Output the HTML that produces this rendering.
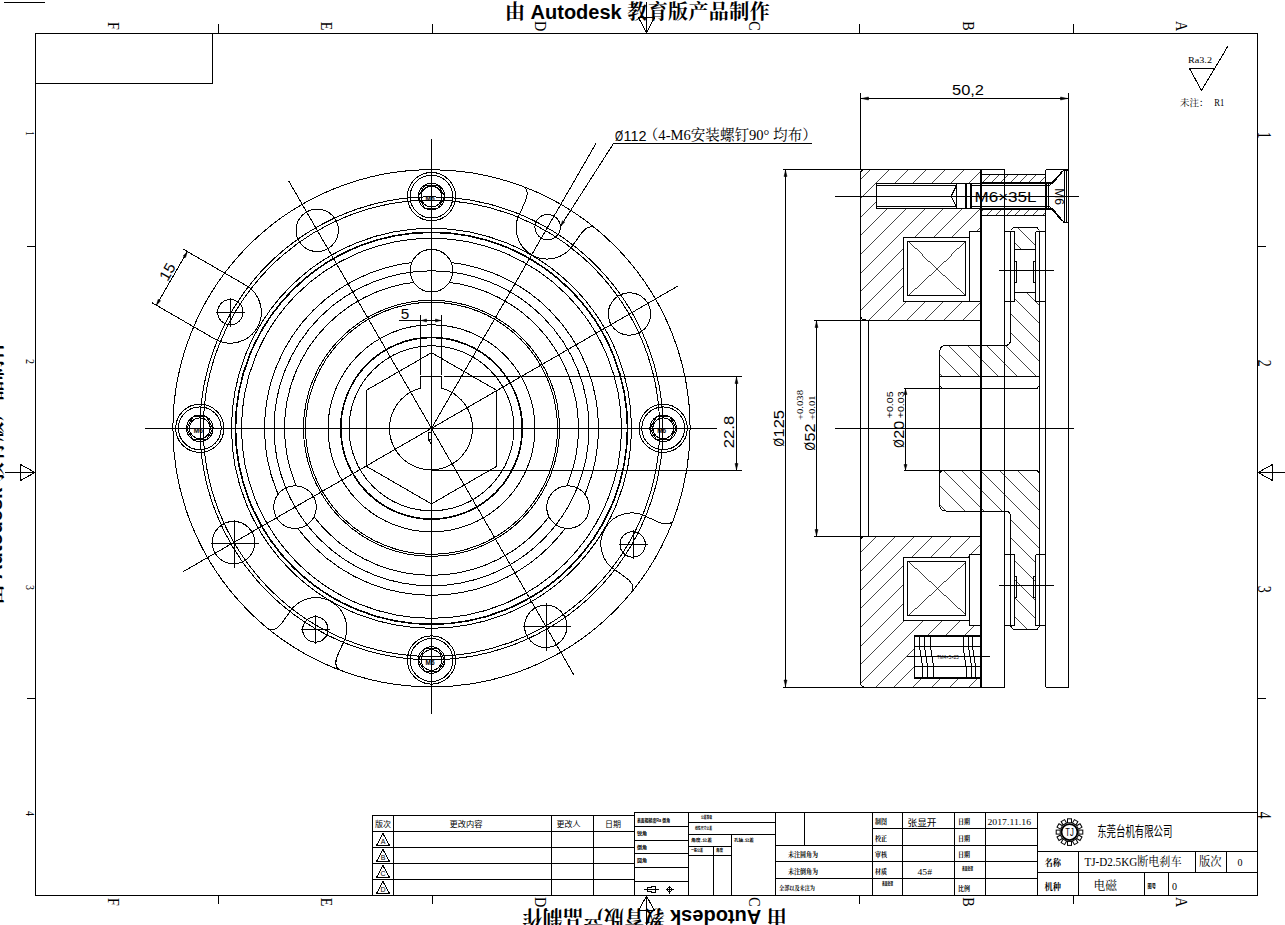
<!DOCTYPE html>
<html lang="zh"><head><meta charset="utf-8"><title>TJ-D2.5KG断电刹车</title>
<style>
html,body{margin:0;padding:0;background:#fff;}
body{width:1285px;height:925px;overflow:hidden;position:relative;}
svg{display:block;position:absolute;left:0;top:0;}
text{fill:#000;stroke:none;}
.ls{font-family:"Liberation Sans",sans-serif;}
.sf{font-family:"Liberation Serif",serif;}
.sg{font-family:"Liberation Serif","Noto Serif CJK SC",serif;}
.hs{font-family:"Liberation Sans","Noto Sans CJK SC",sans-serif;}
.mx{font-family:"Liberation Sans","Noto Serif CJK SC",sans-serif;}
.fk{fill:#000;stroke:#000;stroke-width:0.5;stroke-linejoin:miter;}
.g{fill:none;stroke:#000;stroke-width:1;}
</style></head><body>
<svg width="1285" height="925" viewBox="0 0 1285 925">
<rect x="0" y="0" width="1285" height="925" fill="#fff"/>
<g class="g" shape-rendering="crispEdges">
<rect x="35.5" y="33.5" width="1222" height="862"/>
<path d="M35.5 83.5H212.5V33.5"/>
<line x1="4" y1="2.5" x2="45" y2="2.5"/>
<line x1="218.5" y1="24" x2="218.5" y2="33.5"/>
<line x1="218.5" y1="895.5" x2="218.5" y2="904"/>
<line x1="432.5" y1="24" x2="432.5" y2="33.5"/>
<line x1="432.5" y1="895.5" x2="432.5" y2="904"/>
<line x1="859.5" y1="24" x2="859.5" y2="33.5"/>
<line x1="859.5" y1="895.5" x2="859.5" y2="904"/>
<line x1="1073.5" y1="24" x2="1073.5" y2="33.5"/>
<line x1="1073.5" y1="895.5" x2="1073.5" y2="904"/>
<line x1="27" y1="246.5" x2="35.5" y2="246.5"/>
<line x1="1257.5" y1="246.5" x2="1266" y2="246.5"/>
<line x1="27" y1="698.5" x2="35.5" y2="698.5"/>
<line x1="1257.5" y1="698.5" x2="1266" y2="698.5"/>
<line x1="646.5" y1="2" x2="646.5" y2="33.5"/>
<path d="M638.5 17.5H654.5L646.5 33Z"/>
<line x1="646.5" y1="895.5" x2="646.5" y2="925"/>
<path d="M638.5 910.5H654.5L646.5 896Z"/>
<line x1="5" y1="472.5" x2="35.5" y2="472.5"/>
<path d="M20.5 464.5V480.5L35 472.5Z"/>
<line x1="1257.5" y1="472.5" x2="1285" y2="472.5"/>
<path d="M1272.5 464.5V480.5L1258 472.5Z"/>
</g>
<text class="sf" transform="translate(107.5 26) rotate(90) scale(0.8 1)" font-size="17.7" text-anchor="middle">F</text>
<text class="sf" transform="translate(107.5 902) rotate(90) scale(0.8 1)" font-size="17.7" text-anchor="middle">F</text>
<text class="sf" transform="translate(320.6 26) rotate(90) scale(0.8 1)" font-size="17.7" text-anchor="middle">E</text>
<text class="sf" transform="translate(320.6 902) rotate(90) scale(0.8 1)" font-size="17.7" text-anchor="middle">E</text>
<text class="sf" transform="translate(535.1 26) rotate(90) scale(0.8 1)" font-size="17.7" text-anchor="middle">D</text>
<text class="sf" transform="translate(535.1 902) rotate(90) scale(0.8 1)" font-size="17.7" text-anchor="middle">D</text>
<text class="sf" transform="translate(749.1 26) rotate(90) scale(0.8 1)" font-size="17.7" text-anchor="middle">C</text>
<text class="sf" transform="translate(749.1 902) rotate(90) scale(0.8 1)" font-size="17.7" text-anchor="middle">C</text>
<text class="sf" transform="translate(962.6 26) rotate(90) scale(0.8 1)" font-size="17.7" text-anchor="middle">B</text>
<text class="sf" transform="translate(962.6 902) rotate(90) scale(0.8 1)" font-size="17.7" text-anchor="middle">B</text>
<text class="sf" transform="translate(1175.9 26) rotate(90) scale(0.8 1)" font-size="17.7" text-anchor="middle">A</text>
<text class="sf" transform="translate(1175.9 902) rotate(90) scale(0.8 1)" font-size="17.7" text-anchor="middle">A</text>
<text class="sf" transform="translate(25.7 133.5) rotate(90) scale(0.8 1)" font-size="12.3" text-anchor="middle">1</text>
<text class="sf" transform="translate(1258 135.3) rotate(90) scale(0.75 1)" font-size="18.5" text-anchor="middle">1</text>
<text class="sf" transform="translate(25.7 361.4) rotate(90) scale(0.8 1)" font-size="12.3" text-anchor="middle">2</text>
<text class="sf" transform="translate(1258 363.2) rotate(90) scale(0.75 1)" font-size="18.5" text-anchor="middle">2</text>
<text class="sf" transform="translate(25.7 587.4) rotate(90) scale(0.8 1)" font-size="12.3" text-anchor="middle">3</text>
<text class="sf" transform="translate(1258 589.2) rotate(90) scale(0.75 1)" font-size="18.5" text-anchor="middle">3</text>
<text class="sf" transform="translate(25.7 813.5) rotate(90) scale(0.8 1)" font-size="12.3" text-anchor="middle">4</text>
<text class="sf" transform="translate(1258 815.3) rotate(90) scale(0.75 1)" font-size="18.5" text-anchor="middle">4</text>
<text class="mx" x="505" y="19" font-size="20" font-weight="bold">由 Autodesk <tspan letter-spacing="0.4">教育版产品制作</tspan></text>
<text class="mx" transform="translate(786.8 910) rotate(180)" font-size="20" font-weight="bold">由 Autodesk <tspan letter-spacing="0.4">教育版产品制作</tspan></text>
<text class="mx" transform="translate(1.5 604.5) rotate(-90)" font-size="20" font-weight="bold">由 Autodesk <tspan letter-spacing="0.4">教育版产品制作</tspan></text>
<g class="g" shape-rendering="crispEdges">
<circle cx="431.5" cy="428.3" r="147"/>
<circle cx="431.5" cy="428.3" r="167"/>
<circle cx="431.5" cy="270.7" r="21.3" fill="#fff"/>
<circle cx="295.01" cy="507.1" r="21.3" fill="#fff"/>
<circle cx="567.99" cy="507.1" r="21.3" fill="#fff"/>
<circle cx="431.5" cy="428.3" r="82.5" stroke-width="1"/>
<circle cx="431.5" cy="428.3" r="90.8" stroke-width="1.6"/>
<circle cx="431.5" cy="428.3" r="103.5" stroke-width="1"/>
<circle cx="431.5" cy="428.3" r="126" stroke-width="1"/>
<circle cx="431.5" cy="428.3" r="128" stroke-width="1"/>
<circle cx="431.5" cy="428.3" r="157.5" stroke-width="1"/>
<circle cx="431.5" cy="428.3" r="190" stroke-width="1"/>
<circle cx="431.5" cy="428.3" r="196" stroke-width="1.6"/>
<circle cx="431.5" cy="428.3" r="200" stroke-width="1"/>
<circle cx="431.5" cy="428.3" r="228.2" stroke-width="1"/>
<circle cx="431.5" cy="428.3" r="231.5" stroke-width="1"/>
<circle cx="431.5" cy="428.3" r="258.6" stroke-width="1"/>
<path d="M441.5 388.15A41.5 41.5 0 1 1 420.5 388.15V376.5H441.5Z"/>
<path d="M431.5 352.7L366.03 390.5L366.03 466.1L431.5 503.9L496.97 466.1L496.97 390.5Z"/>
<path d="M428.5 432.5H431.5V439.5H428.5ZM428.5 439.5L431 444"/>
<line x1="145" y1="428.5" x2="717" y2="428.5"/>
<line x1="431.5" y1="138.5" x2="431.5" y2="714"/>
<line x1="183.38" y1="571.55" x2="678.32" y2="285.8"/>
<line x1="288.7" y1="180.96" x2="573.75" y2="674.68"/>
<line x1="431.5" y1="428.3" x2="596" y2="143.38"/>
<circle cx="663.2" cy="428.3" r="24.1"/>
<circle cx="663.2" cy="428.3" r="21.4"/>
<circle cx="663.2" cy="428.3" r="13.3"/>
<circle cx="663.2" cy="428.3" r="10.4"/>
<path d="M676.5 428.3L669.85 416.78L656.55 416.78L649.9 428.3L656.55 439.82L669.85 439.82Z"/>
<circle cx="431.5" cy="196.6" r="24.1"/>
<circle cx="431.5" cy="196.6" r="21.4"/>
<circle cx="431.5" cy="196.6" r="13.3"/>
<circle cx="431.5" cy="196.6" r="10.4"/>
<path d="M444.8 196.6L438.15 185.08L424.85 185.08L418.2 196.6L424.85 208.12L438.15 208.12Z"/>
<circle cx="199.8" cy="428.3" r="24.1"/>
<circle cx="199.8" cy="428.3" r="21.4"/>
<circle cx="199.8" cy="428.3" r="13.3"/>
<circle cx="199.8" cy="428.3" r="10.4"/>
<path d="M213.1 428.3L206.45 416.78L193.15 416.78L186.5 428.3L193.15 439.82L206.45 439.82Z"/>
<circle cx="431.5" cy="660" r="24.1"/>
<circle cx="431.5" cy="660" r="21.4"/>
<circle cx="431.5" cy="660" r="13.3"/>
<circle cx="431.5" cy="660" r="10.4"/>
<path d="M444.8 660L438.15 648.48L424.85 648.48L418.2 660L424.85 671.52L438.15 671.52Z"/>
<circle cx="629.47" cy="314" r="21.2"/>
<circle cx="317.2" cy="230.33" r="21.2"/>
<circle cx="233.53" cy="542.6" r="21.2"/>
<line x1="210.5" y1="543.5" x2="258.5" y2="543.5"/>
<line x1="234.5" y1="519.5" x2="234.5" y2="567.5"/>
<circle cx="545.8" cy="626.27" r="21.2"/>
<line x1="522.5" y1="626.5" x2="570.5" y2="626.5"/>
<line x1="546.5" y1="602.5" x2="546.5" y2="650.5"/>
<circle cx="547.65" cy="227.12" r="12.7"/>
<path d="M523.74 186.53C528.59 190.14 528 196.15 524.44 203.33C522.61 206.89 521.63 209.79 520.3 212.49A31 31 0 0 0 574 243.49C575.67 240.99 577.69 238.69 579.86 235.33C584.3 228.65 589.21 225.14 594.76 227.53"/>
<circle cx="230.32" cy="312.15" r="12.7"/>
<line x1="216" y1="312.5" x2="245" y2="312.5"/>
<line x1="230.5" y1="298" x2="230.5" y2="327"/>
<path d="M151.95 302.7L214.82 339A31 31 0 0 0 245.82 285.3L182.95 249"/>
<circle cx="315.35" cy="629.48" r="12.7"/>
<line x1="301" y1="629.5" x2="330" y2="629.5"/>
<line x1="315.5" y1="615" x2="315.5" y2="644"/>
<path d="M339.26 670.07C334.41 666.46 335 660.45 338.56 653.27C340.39 649.71 341.37 646.81 342.7 644.11A31 31 0 0 0 289 613.11C287.33 615.61 285.31 617.91 283.14 621.27C278.7 627.95 273.79 631.46 268.24 629.07"/>
<circle cx="632.68" cy="544.45" r="12.7"/>
<line x1="619" y1="544.5" x2="648" y2="544.5"/>
<line x1="633.5" y1="530" x2="633.5" y2="559"/>
<path d="M673.27 520.54C669.66 525.39 663.65 524.8 656.47 521.24C652.91 519.41 650.01 518.43 647.31 517.1A31 31 0 0 0 616.31 570.8C618.81 572.47 621.11 574.49 624.47 576.66C631.15 581.1 634.66 586.01 632.27 591.56"/>
<line x1="420.5" y1="315" x2="420.5" y2="374.5"/>
<line x1="441.5" y1="315" x2="441.5" y2="374.5"/>
<line x1="399" y1="320.5" x2="441.5" y2="320.5"/>
<line x1="444" y1="376.5" x2="742" y2="376.5"/>
<line x1="431.5" y1="470.5" x2="742" y2="470.5"/>
<line x1="736.5" y1="376.5" x2="736.5" y2="470.5"/>
<line x1="156.37" y1="305.25" x2="187.37" y2="251.55"/>
<line x1="613.5" y1="143.5" x2="812" y2="143.5"/>
<line x1="613.5" y1="143.5" x2="560.4" y2="226.4"/>
</g>
<polygon class="fk" points="421.5,320.5 426.5,319 426.5,322"/>
<polygon class="fk" points="440.5,320.5 435.5,322 435.5,319"/>
<polygon class="fk" points="736.5,377.5 738,383.5 735,383.5"/>
<polygon class="fk" points="736.5,469.5 735,463.5 738,463.5"/>
<polygon class="fk" points="156.37,305.25 158.15,299.35 160.58,300.75"/>
<polygon class="fk" points="187.37,251.55 185.58,257.45 183.15,256.05"/>
<polygon class="fk" points="560.4,226.4 562.53,220.64 564.72,222.04"/>
<text class="ls" x="405" y="319" font-size="15" text-anchor="middle" textLength="8.5" lengthAdjust="spacingAndGlyphs">5</text>
<text class="ls" transform="translate(734.3 432) rotate(-90)" font-size="15" text-anchor="middle" textLength="32.5" lengthAdjust="spacingAndGlyphs">22.8</text>
<text class="ls" transform="translate(171.83 274.3) rotate(-60)" font-size="15" text-anchor="middle" textLength="17.5" lengthAdjust="spacingAndGlyphs">15</text>
<text class="ls" transform="translate(615 141) scale(0.72 1)" font-size="14.5">Ø</text>
<text class="ls" x="623.5" y="141" font-size="14.5" textLength="23" lengthAdjust="spacingAndGlyphs">112</text>
<text class="sg" x="643.8" y="140.3" font-size="14.4" textLength="173" lengthAdjust="spacingAndGlyphs">（4-M6安装螺钉90° 均布）</text>
<text class="ls" x="661.7" y="433.1" font-size="6.5" text-anchor="middle" font-weight="bold">M6</text>
<text class="ls" x="430" y="201.4" font-size="6.5" text-anchor="middle" font-weight="bold">M6</text>
<text class="ls" x="198.3" y="433.1" font-size="6.5" text-anchor="middle" font-weight="bold">M6</text>
<text class="ls" x="430" y="664.8" font-size="6.5" text-anchor="middle" font-weight="bold">M6</text>
<defs>
<clipPath id="cA"><path clip-rule="evenodd" d="M860.5 169.5H980V320H860.5Z M876.5 183.5H980V208.5H876.5Z M903.5 237.5H969.5V231.5H980V301.5H903.5Z"/></clipPath>
<clipPath id="cB"><path clip-rule="evenodd" d="M860.5 536.5H980V687H860.5Z M903.5 557.5H969.5V554.5H980V625.5H969.5V620H903.5Z M914.5 635H980V678H914.5Z"/></clipPath>
<clipPath id="cC"><path d="M981.5 174.5H1045.5V182.5H981.5Z M981.5 209.5H1045.5V215.5H981.5Z"/></clipPath>
<clipPath id="cD"><path clip-rule="evenodd" d="M1010.5 230.5L1013.5 227.5H1037L1039.5 230.5V376.3H939.7V352Q939.7 345.5 946 345.5H1005Q1010.5 345.5 1010.5 339.5Z M1010.5 231.5H1014.5V301.5H1010.5Z M1035.5 231.5H1039.5V301.5H1035.5Z M1014.5 249.3H1035.5V292.2H1014.5Z"/></clipPath>
<clipPath id="cE"><path clip-rule="evenodd" d="M1010.5 626L1013.5 629.2H1037L1039.5 626V470H939.7V504.5Q939.7 511 946 511H1005Q1010.5 511 1010.5 517Z M1010.5 554.5H1014.5V625.5H1010.5Z M1035.5 554.5H1039.5V625.5H1035.5Z"/></clipPath>
</defs>
<g class="g" shape-rendering="crispEdges" clip-path="url(#cA)">
<path d="M882.88 120L282.88 720M901.54 120L301.54 720M920.2 120L320.2 720M938.86 120L338.86 720M957.52 120L357.52 720M976.18 120L376.18 720M994.84 120L394.84 720M1013.5 120L413.5 720M1032.16 120L432.16 720M1050.82 120L450.82 720M1069.48 120L469.48 720M1088.14 120L488.14 720M1106.8 120L506.8 720M1125.46 120L525.46 720M1144.12 120L544.12 720M1162.78 120L562.78 720M1181.44 120L581.44 720M1200.1 120L600.1 720" stroke-width="0.72"/>
</g>
<g class="g" shape-rendering="crispEdges" clip-path="url(#cB)">
<path d="M1256.08 120L656.08 720M1274.74 120L674.74 720M1293.4 120L693.4 720M1312.06 120L712.06 720M1330.72 120L730.72 720M1349.38 120L749.38 720M1368.04 120L768.04 720M1386.7 120L786.7 720M1405.36 120L805.36 720M1424.02 120L824.02 720M1442.68 120L842.68 720M1461.34 120L861.34 720M1480 120L880 720M1498.66 120L898.66 720M1517.32 120L917.32 720M1535.98 120L935.98 720M1554.64 120L954.64 720M1573.3 120L973.3 720" stroke-width="0.72"/>
</g>
<g class="g" shape-rendering="crispEdges" clip-path="url(#cC)">
<path d="M1026.1 120L426.1 720M1035.4 120L435.4 720M1044.7 120L444.7 720M1054 120L454 720M1063.3 120L463.3 720M1072.6 120L472.6 720M1081.9 120L481.9 720M1091.2 120L491.2 720M1100.5 120L500.5 720M1109.8 120L509.8 720M1119.1 120L519.1 720M1128.4 120L528.4 720M1137.7 120L537.7 720M1147 120L547 720M1156.3 120L556.3 720" stroke-width="0.72"/>
</g>
<g class="g" shape-rendering="crispEdges" clip-path="url(#cD)">
<path d="M648.76 120L1248.76 720M667.44 120L1267.44 720M686.12 120L1286.12 720M704.8 120L1304.8 720M723.48 120L1323.48 720M742.16 120L1342.16 720M760.84 120L1360.84 720M779.52 120L1379.52 720M798.2 120L1398.2 720M816.88 120L1416.88 720M835.56 120L1435.56 720M854.24 120L1454.24 720M872.92 120L1472.92 720M891.6 120L1491.6 720M910.28 120L1510.28 720M928.96 120L1528.96 720M947.64 120L1547.64 720" stroke-width="0.72"/>
</g>
<g class="g" shape-rendering="crispEdges" clip-path="url(#cE)">
<path d="M499.32 120L1099.32 720M518 120L1118 720M536.68 120L1136.68 720M555.36 120L1155.36 720M574.04 120L1174.04 720M592.72 120L1192.72 720M611.4 120L1211.4 720M630.08 120L1230.08 720M648.76 120L1248.76 720M667.44 120L1267.44 720M686.12 120L1286.12 720M704.8 120L1304.8 720" stroke-width="0.72"/>
</g>
<g class="g" shape-rendering="crispEdges">
<line x1="981" y1="169.5" x2="981" y2="687" stroke-width="2"/>
<line x1="1004.5" y1="169.5" x2="1004.5" y2="687"/>
<line x1="1045.5" y1="169.5" x2="1045.5" y2="687"/>
<line x1="1068.5" y1="93" x2="1068.5" y2="687"/>
<line x1="860.5" y1="93" x2="860.5" y2="170"/>
<line x1="783" y1="169.5" x2="1004.5" y2="169.5"/>
<line x1="1045.5" y1="169.5" x2="1068.5" y2="169.5"/>
<line x1="783" y1="687" x2="1004.5" y2="687"/>
<line x1="1045.5" y1="687" x2="1068.5" y2="687"/>
<path d="M864 169.5Q860.5 170 860.5 174V315Q860.5 320 865.5 320"/>
<path d="M864 687Q860.5 686.5 860.5 682V541.5Q860.5 536.5 865.5 536.5"/>
<line x1="814" y1="320.5" x2="980" y2="320.5"/>
<line x1="814" y1="536.5" x2="980" y2="536.5"/>
<line x1="868.5" y1="320.5" x2="868.5" y2="536.5"/>
<line x1="860.5" y1="315" x2="860.5" y2="541.5"/>
<rect x="903.5" y="237.5" width="66" height="64"/>
<rect x="907.5" y="241.5" width="58" height="54"/>
<path d="M907.5 241.5L965.5 295.5M965.5 241.5L907.5 295.5" stroke-width="0.74"/>
<rect x="969.5" y="231.5" width="10.5" height="70"/>
<rect x="903.5" y="557.5" width="66" height="62.5"/>
<rect x="907.5" y="561.5" width="58" height="54"/>
<path d="M907.5 561.5L965.5 615.5M965.5 561.5L907.5 615.5" stroke-width="0.74"/>
<rect x="969.5" y="554.5" width="10.5" height="71"/>
<path d="M980 183.5H876.5V208.5H980"/>
<path d="M876.5 185.5H956.5M876.5 206.5H956.5"/>
<path d="M956.5 183.5V208.5M956.5 185.5L951 196.5L956.5 206.5"/>
<path d="M965.5 183.5V208.5M966.5 183.5V208.5M970.5 183.5V208.5M971.5 183.5V208.5"/>
<path d="M980 183.5H1052.5L1064 170M980 208.5H1052.5L1064 222.5" stroke-width="1"/>
<path d="M971.5 185.5H1049.5L1062 171.5M971.5 206.5H1049.5L1062 221"/>
<path d="M1046.5 183.5V208.5M1048.5 183.5V208.5"/>
<path d="M1064 170V222.5M1066 170V222.5M1068.5 170V222.5M1064 170H1068.5M1064 222.5H1068.5"/>
<path d="M981.5 174.5H1045.5M981.5 215.5H1045.5"/>
<path d="M981.5 182.5H1052.5M981.5 209.5H1052.5" stroke-width="1"/>
<line x1="835" y1="196.5" x2="1079" y2="196.5"/>
<path d="M1010.5 230.5L1013.5 227.5H1037L1039.5 230.5"/>
<path d="M1010.5 626L1013.5 629.5H1037L1039.5 626"/>
<line x1="1039.5" y1="230.5" x2="1039.5" y2="626"/>
<path d="M1010.5 230.5V339.5Q1010.5 345.5 1005 345.5H946Q939.7 345.5 939.7 352V504.5Q939.7 511 946 511H1005Q1010.5 511 1010.5 517V626"/>
<path d="M939.7 376.5H1039.5M904 388.5H1037L1039.5 385.5M939.7 385.5L942 388.5"/>
<path d="M904 470.5H1037L1039.5 473M939.7 473L942 470.5"/>
<path d="M1004.5 231.5H1014.5M1035.5 231.5H1045.5M1004.5 301.5H1014.5M1035.5 301.5H1045.5"/>
<path d="M1014.5 231.5V301.5M1035.5 231.5V301.5"/>
<rect x="1014.5" y="261" width="2" height="21"/>
<rect x="1033.5" y="261" width="2" height="21"/>
<line x1="999" y1="270.5" x2="1053.5" y2="270.5"/>
<path d="M1004.5 554.5H1014.5M1035.5 554.5H1045.5M1004.5 625.5H1014.5M1035.5 625.5H1045.5"/>
<path d="M1014.5 554.5V625.5M1035.5 554.5V625.5"/>
<rect x="1014.5" y="576" width="2" height="21"/>
<rect x="1033.5" y="576" width="2" height="21"/>
<line x1="999" y1="585.5" x2="1053.5" y2="585.5"/>
<path d="M1014.5 249.5H1035.5M1014.5 292.5H1035.5"/>
<rect x="914.5" y="635" width="65.5" height="43"/>
<path d="M914.5 635.5H980M914.5 677.5H980" stroke-width="2"/>
<path d="M914.5 646.5H980M914.5 666.5H980"/>
<line x1="907" y1="656.5" x2="990" y2="656.5"/>
<path d="M919.5 635V646.5L922.5 666.5V678M924.5 635V646.5L927.5 666.5V678M930.5 635V646.5L933.5 666.5V678M963 635V646.5L966 666.5V678M968.5 635V646.5L971.5 666.5V678M972.5 635V646.5L975.5 666.5V678"/>
<line x1="835" y1="428.5" x2="1074" y2="428.5"/>
<line x1="860.5" y1="93" x2="860.5" y2="169.5"/>
<line x1="860.5" y1="98.5" x2="1068.5" y2="98.5"/>
<line x1="785.5" y1="169.5" x2="785.5" y2="687"/>
<line x1="816.5" y1="320.5" x2="816.5" y2="536.5"/>
<line x1="905.5" y1="388.5" x2="905.5" y2="470.5"/>
</g>
<polygon class="fk" points="861.5,98.5 868.5,97 868.5,100"/>
<polygon class="fk" points="1067.5,98.5 1060.5,100 1060.5,97"/>
<polygon class="fk" points="785.5,170.5 787,176.5 784,176.5"/>
<polygon class="fk" points="785.5,686 784,680 787,680"/>
<polygon class="fk" points="816.5,321.5 818,327.5 815,327.5"/>
<polygon class="fk" points="816.5,535.5 815,529.5 818,529.5"/>
<polygon class="fk" points="905.5,389.5 907,394.5 904,394.5"/>
<polygon class="fk" points="905.5,469.5 904,464.5 907,464.5"/>
<text class="ls" x="968" y="95" font-size="15" text-anchor="middle" textLength="32" lengthAdjust="spacingAndGlyphs">50,2</text>
<text class="ls" x="1005.5" y="201.8" font-size="15" text-anchor="middle" textLength="62" lengthAdjust="spacingAndGlyphs">M6×35L</text>
<text class="ls" transform="translate(1054.5 196.5) rotate(90)" font-size="12" text-anchor="middle">M6</text>
<text class="ls" transform="translate(784 446.5) rotate(-90) scale(0.72 1)" font-size="15">Ø</text>
<text class="ls" transform="translate(784 437.5) rotate(-90)" font-size="15" textLength="27.5" lengthAdjust="spacingAndGlyphs">125</text>
<text class="ls" transform="translate(815 450.5) rotate(-90) scale(0.72 1)" font-size="15">Ø</text>
<text class="ls" transform="translate(815 441.5) rotate(-90)" font-size="15" textLength="18" lengthAdjust="spacingAndGlyphs">52</text>
<text class="sg" transform="translate(803.3 420) rotate(-90)" font-size="8.5" textLength="30" lengthAdjust="spacingAndGlyphs">+0.038</text>
<text class="sg" transform="translate(815 420) rotate(-90)" font-size="8.5" textLength="24.5" lengthAdjust="spacingAndGlyphs">+0.01</text>
<text class="ls" transform="translate(904 447.8) rotate(-90) scale(0.72 1)" font-size="15">Ø</text>
<text class="ls" transform="translate(904 438.8) rotate(-90)" font-size="15" textLength="18" lengthAdjust="spacingAndGlyphs">20</text>
<text class="ls" transform="translate(893.3 418.3) rotate(-90)" font-size="9" textLength="27" lengthAdjust="spacingAndGlyphs">+0.05</text>
<text class="ls" transform="translate(904 418.3) rotate(-90)" font-size="9" textLength="27" lengthAdjust="spacingAndGlyphs">+0.03</text>
<text class="ls" x="948" y="658.5" font-size="4.5" text-anchor="middle">TM4×5×25</text>
<g class="g" shape-rendering="crispEdges">
<path d="M1189.5 68.5H1214.5M1189.5 68.5L1201.5 90.5L1228 46"/>
</g>
<text class="sg" x="1188" y="63" font-size="8.5" textLength="24" lengthAdjust="spacingAndGlyphs">Ra3.2</text>
<text class="sg" x="1180" y="106" font-size="9.5">未注：</text>
<text class="sg" x="1214.3" y="106" font-size="9.5" textLength="10" lengthAdjust="spacingAndGlyphs">R1</text>
<g class="g" shape-rendering="crispEdges">
<path d="M372.5 895.5V815.5H634.5"/>
<line x1="372.5" y1="831.5" x2="634.5" y2="831.5"/>
<line x1="372.5" y1="847.5" x2="634.5" y2="847.5"/>
<line x1="372.5" y1="863.5" x2="634.5" y2="863.5"/>
<line x1="372.5" y1="879.5" x2="634.5" y2="879.5"/>
<line x1="393.5" y1="815.5" x2="393.5" y2="895.5"/>
<line x1="551.5" y1="815.5" x2="551.5" y2="895.5"/>
<line x1="593.5" y1="815.5" x2="593.5" y2="895.5"/>
<path d="M383 833.5L376.5 845.5H389.5Z"/>
<path d="M383 849.5L376.5 861.5H389.5Z"/>
<path d="M383 865.5L376.5 877.5H389.5Z"/>
<path d="M383 881.5L376.5 893.5H389.5Z"/>
<path d="M634.5 895.5V812.5H1257.5"/>
<line x1="634.5" y1="826.5" x2="688.5" y2="826.5"/>
<line x1="634.5" y1="840.5" x2="688.5" y2="840.5"/>
<line x1="634.5" y1="853.5" x2="688.5" y2="853.5"/>
<line x1="634.5" y1="867.5" x2="688.5" y2="867.5"/>
<line x1="634.5" y1="881.5" x2="688.5" y2="881.5"/>
<line x1="688.5" y1="812.5" x2="688.5" y2="895.5"/>
<path d="M644 889.5H659M647.5 887.5V891.5H651.5V892.5H655V886.5H651.5V887.5Z"/>
<circle cx="669.5" cy="889.5" r="2"/>
<path d="M665.5 889.5H673.5M669.5 885.5V893.5"/>
<path d="M688.5 822.5H775.5M688.5 834.5H775.5M688.5 846.5H731.5M688.5 855.5H731.5M731.5 834.5V895.5M713.5 846.5V895.5"/>
<line x1="775.5" y1="812.5" x2="775.5" y2="895.5"/>
<path d="M804.5 812.5V845.5M775.5 845.5H1037.5M775.5 861.5H1037.5M775.5 878.5H1037.5M872.5 828.5H1037.5"/>
<line x1="872.5" y1="812.5" x2="872.5" y2="895.5"/>
<line x1="902.5" y1="812.5" x2="902.5" y2="895.5"/>
<line x1="954.5" y1="812.5" x2="954.5" y2="895.5"/>
<line x1="985.5" y1="812.5" x2="985.5" y2="895.5"/>
<line x1="1037.5" y1="812.5" x2="1037.5" y2="895.5"/>
<path d="M1037.5 851.5H1257.5M1037.5 872.5H1257.5M1078.5 851.5V895.5M1195.5 851.5V872.5M1226.5 851.5V872.5M1144.5 872.5V895.5M1168.5 872.5V895.5"/>
</g>
<g class="g">
<rect x="-2" y="-2" width="4" height="4" fill="#fff" transform="translate(1080.8 832.1) rotate(0)"/>
<rect x="-2" y="-2" width="4" height="4" fill="#fff" transform="translate(1079.29 837.75) rotate(30)"/>
<rect x="-2" y="-2" width="4" height="4" fill="#fff" transform="translate(1075.15 841.89) rotate(60)"/>
<rect x="-2" y="-2" width="4" height="4" fill="#fff" transform="translate(1069.5 843.4) rotate(90)"/>
<rect x="-2" y="-2" width="4" height="4" fill="#fff" transform="translate(1063.85 841.89) rotate(120)"/>
<rect x="-2" y="-2" width="4" height="4" fill="#fff" transform="translate(1059.71 837.75) rotate(150)"/>
<rect x="-2" y="-2" width="4" height="4" fill="#fff" transform="translate(1058.2 832.1) rotate(180)"/>
<rect x="-2" y="-2" width="4" height="4" fill="#fff" transform="translate(1059.71 826.45) rotate(210)"/>
<rect x="-2" y="-2" width="4" height="4" fill="#fff" transform="translate(1063.85 822.31) rotate(240)"/>
<rect x="-2" y="-2" width="4" height="4" fill="#fff" transform="translate(1069.5 820.8) rotate(270)"/>
<rect x="-2" y="-2" width="4" height="4" fill="#fff" transform="translate(1075.15 822.31) rotate(300)"/>
<rect x="-2" y="-2" width="4" height="4" fill="#fff" transform="translate(1079.29 826.45) rotate(330)"/>
<circle cx="1069.5" cy="832.1" r="8" stroke-width="1.8" fill="#fff"/>
</g>
<text class="ls" x="1069.5" y="836" font-size="10" text-anchor="middle" textLength="8.5" lengthAdjust="spacingAndGlyphs">TJ</text>
<text class="hs" x="383" y="827" font-size="7.5" text-anchor="middle" textLength="16" lengthAdjust="spacingAndGlyphs">版次</text>
<text class="hs" x="466" y="827" font-size="7.5" text-anchor="middle" textLength="33" lengthAdjust="spacingAndGlyphs">更改内容</text>
<text class="hs" x="568.5" y="827" font-size="7.5" text-anchor="middle" textLength="24" lengthAdjust="spacingAndGlyphs">更改人</text>
<text class="hs" x="613" y="827" font-size="7.5" text-anchor="middle" textLength="16" lengthAdjust="spacingAndGlyphs">日期</text>
<text class="ls" x="383" y="844" font-size="7" text-anchor="middle">A</text>
<text class="ls" x="383" y="860" font-size="7" text-anchor="middle">B</text>
<text class="ls" x="383" y="876" font-size="7" text-anchor="middle">C</text>
<text class="ls" x="383" y="892" font-size="7" text-anchor="middle">D</text>
<text class="hs" x="637" y="821.5" font-size="4.5" font-weight="bold" textLength="33" lengthAdjust="spacingAndGlyphs">表面粗糙度Ra 倒角</text>
<text class="hs" x="637" y="835" font-size="4.5" font-weight="bold" textLength="10" lengthAdjust="spacingAndGlyphs">锐角</text>
<text class="hs" x="637" y="848.5" font-size="4.5" font-weight="bold" textLength="10" lengthAdjust="spacingAndGlyphs">倒角</text>
<text class="hs" x="637" y="862" font-size="4.5" font-weight="bold" textLength="10" lengthAdjust="spacingAndGlyphs">圆角</text>
<text class="hs" x="701" y="818.5" font-size="4" font-weight="bold" textLength="11" lengthAdjust="spacingAndGlyphs">公差等级</text>
<text class="hs" x="695" y="830" font-size="4" font-weight="bold" textLength="17" lengthAdjust="spacingAndGlyphs">线性尺寸公差</text>
<text class="hs" x="691" y="841.5" font-size="4" font-weight="bold" textLength="21" lengthAdjust="spacingAndGlyphs">角度-公差</text>
<text class="hs" x="734" y="841.5" font-size="4" font-weight="bold" textLength="20" lengthAdjust="spacingAndGlyphs">孔轴-公差</text>
<text class="hs" x="691" y="851.5" font-size="4" font-weight="bold" textLength="12" lengthAdjust="spacingAndGlyphs">一般公差</text>
<text class="hs" x="716" y="851.5" font-size="4" font-weight="bold" textLength="7" lengthAdjust="spacingAndGlyphs">角度</text>
<text class="sg" x="788" y="857" font-size="7" font-weight="bold" textLength="30" lengthAdjust="spacingAndGlyphs">未注圆角为</text>
<text class="sg" x="788" y="873.5" font-size="7" font-weight="bold" textLength="30" lengthAdjust="spacingAndGlyphs">未注倒角为</text>
<text class="sg" x="779" y="889.5" font-size="6" font-weight="bold" textLength="36" lengthAdjust="spacingAndGlyphs">全部以及未注为</text>
<text class="sg" x="875" y="824" font-size="7" font-weight="bold" textLength="12" lengthAdjust="spacingAndGlyphs">制图</text>
<text class="sg" x="875" y="840.5" font-size="7" font-weight="bold" textLength="12" lengthAdjust="spacingAndGlyphs">校正</text>
<text class="sg" x="875" y="857" font-size="7" font-weight="bold" textLength="12" lengthAdjust="spacingAndGlyphs">审核</text>
<text class="sg" x="875" y="874" font-size="7" font-weight="bold" textLength="12" lengthAdjust="spacingAndGlyphs">材质</text>
<text class="hs" x="882" y="885" font-size="4.5" font-weight="bold" textLength="11" lengthAdjust="spacingAndGlyphs">表面处理</text>
<text class="hs" x="907.5" y="826" font-size="9" textLength="29" lengthAdjust="spacingAndGlyphs">张显开</text>
<text class="sg" x="917.5" y="875" font-size="8.5" textLength="14.5" lengthAdjust="spacingAndGlyphs">45#</text>
<text class="sg" x="958" y="824" font-size="7" font-weight="bold" textLength="12" lengthAdjust="spacingAndGlyphs">日期</text>
<text class="sg" x="958" y="840.5" font-size="7" font-weight="bold" textLength="12" lengthAdjust="spacingAndGlyphs">日期</text>
<text class="sg" x="958" y="857" font-size="7" font-weight="bold" textLength="12" lengthAdjust="spacingAndGlyphs">日期</text>
<text class="hs" x="962" y="870" font-size="4.5" font-weight="bold" textLength="11" lengthAdjust="spacingAndGlyphs">表面处理</text>
<text class="sg" x="958" y="891" font-size="7" font-weight="bold" textLength="12" lengthAdjust="spacingAndGlyphs">比例</text>
<text class="sg" x="987.5" y="824.5" font-size="8" textLength="43.5" lengthAdjust="spacingAndGlyphs">2017.11.16</text>
<text class="hs" x="1097.2" y="836.3" font-size="13.5" textLength="75.2" lengthAdjust="spacingAndGlyphs">东莞台机有限公司</text>
<text class="sg" x="1044.5" y="866" font-size="9" font-weight="bold" textLength="16.5" lengthAdjust="spacingAndGlyphs">名称</text>
<text class="sg" x="1084.5" y="866" font-size="12" textLength="97" lengthAdjust="spacingAndGlyphs">TJ-D2.5KG断电刹车</text>
<text class="sg" x="1199" y="866" font-size="12" textLength="22.5" lengthAdjust="spacingAndGlyphs">版次</text>
<text class="sg" x="1237.5" y="866" font-size="10">0</text>
<text class="sg" x="1044.5" y="889.5" font-size="9" font-weight="bold" textLength="16.5" lengthAdjust="spacingAndGlyphs">机种</text>
<text class="sg" x="1093.5" y="890" font-size="12" textLength="23.5" lengthAdjust="spacingAndGlyphs">电磁</text>
<text class="hs" x="1147.5" y="888" font-size="6" font-weight="bold" textLength="8.5" lengthAdjust="spacingAndGlyphs">图号</text>
<text class="sg" x="1172" y="889.5" font-size="10">0</text>
</svg>
</body></html>
